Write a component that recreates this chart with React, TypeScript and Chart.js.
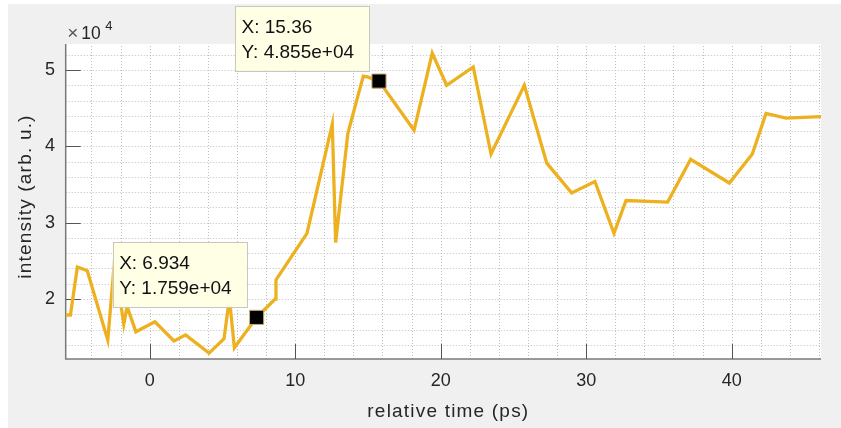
import React, { useEffect, useRef } from "react";
import { Chart, registerables } from "chart.js";

Chart.register(...registerables);

// ---- data ----
const timePs = [
  -5.77, -5.45, -4.97, -4.29, -2.88, -2.42, -1.78, -1.55, -0.95, 0.36, 1.67, 2.47,
  4.08, 5.11, 5.48, 5.82, 7.35, 8.63, 8.68, 10.81, 12.55, 12.78, 13.62, 14.68,
  14.96, 15.76, 18.17, 19.42, 20.41, 22.24, 23.46, 25.75, 27.29, 29.0, 30.6,
  31.91, 32.74, 35.6, 37.18, 39.84, 41.42, 42.36, 43.73, 46.14,
];
const intensity = [
  17900, 17900, 24200, 23700, 14600, 25000, 16700, 19000, 15700, 17000, 14500, 15300,
  12900, 14800, 20100, 13600, 17590, 20000, 22500, 28600, 42900, 27400, 41700, 49200,
  49100, 48550, 42100, 52200, 48000, 50400, 39000, 48000, 37800, 33900, 35400,
  28600, 32900, 32700, 38300, 35200, 39000, 44300, 43700, 43900,
];

// data tips (marker position as drawn, label text as shown)
const tipX = [7.35, 15.76];
const tipY = [17590, 48550];
const tipLabelX = ["X: 6.934", "X: 15.36"];
const tipLabelY = ["Y: 1.759e+04", "Y: 4.855e+04"];

const xTickValues = [0, 10, 20, 30, 40];
const yTickValues = [20000, 30000, 40000, 50000];
const xMinorStep = 2;
const yMinorStep = 2000;
const xRange = [-5.773, 46.14];
const yRange = [12136, 53408];

const xTitle = "relative time (ps)";
const yTitle = "intensity (arb. u.)";

const FONT = "'Liberation Sans', Arial, Helvetica, sans-serif";
const TEXT = "#262626";

const matlabPlugin = {
  id: "matlabLook",
  beforeDraw(chart: any) {
    const { ctx, chartArea: a, width, height } = chart;
    ctx.save();
    ctx.fillStyle = "#f0f0f0";
    ctx.fillRect(0, 0, width, height);
    ctx.fillStyle = "#ffffff";
    ctx.fillRect(a.left, a.top, a.right - a.left, a.bottom - a.top);
    ctx.restore();
  },
  beforeDatasetsDraw(chart: any) {
    const { ctx, chartArea: a, scales } = chart;
    const xs = scales.x;
    const ys = scales.y;
    ctx.save();
    ctx.strokeStyle = "#bdbdbd";
    ctx.lineWidth = 1;
    ctx.setLineDash([1, 2]);
    const x0 = Math.ceil(xs.min / xMinorStep) * xMinorStep;
    for (let v = x0; v <= xs.max + 1e-9; v += xMinorStep) {
      const px = Math.round(xs.getPixelForValue(v)) + 0.5;
      if (px <= a.left + 1) continue;
      ctx.beginPath();
      ctx.moveTo(px, a.bottom);
      ctx.lineTo(px, a.top);
      ctx.stroke();
    }
    const y0 = Math.ceil(ys.min / yMinorStep) * yMinorStep;
    for (let v = y0; v <= ys.max + 1e-9; v += yMinorStep) {
      const py = Math.round(ys.getPixelForValue(v)) + 0.5;
      if (py >= a.bottom - 1) continue;
      ctx.beginPath();
      ctx.moveTo(a.left, py);
      ctx.lineTo(a.right, py);
      ctx.stroke();
    }
    ctx.setLineDash([]);
    // axes lines
    ctx.strokeStyle = "#7a7a7a";
    ctx.lineWidth = 1.5;
    ctx.beginPath();
    ctx.moveTo(a.left, a.top);
    ctx.lineTo(a.left, a.bottom);
    ctx.lineTo(a.right, a.bottom);
    ctx.stroke();
    // tick marks (inward)
    ctx.strokeStyle = "#555555";
    ctx.lineWidth = 1;
    const tl = 15;
    for (const v of xTickValues) {
      const px = Math.round(xs.getPixelForValue(v)) + 0.5;
      ctx.beginPath();
      ctx.moveTo(px, a.bottom);
      ctx.lineTo(px, a.bottom - tl);
      ctx.stroke();
    }
    for (const v of yTickValues) {
      const py = Math.round(ys.getPixelForValue(v)) + 0.5;
      ctx.beginPath();
      ctx.moveTo(a.left, py);
      ctx.lineTo(a.left + tl, py);
      ctx.stroke();
    }
    ctx.restore();
  },
  afterDraw(chart: any) {
    const { ctx, chartArea: a, scales } = chart;
    const xs = scales.x;
    const ys = scales.y;
    ctx.save();
    // axis titles
    ctx.fillStyle = TEXT;
    ctx.font = `19px ${FONT}`;
    ctx.textAlign = "center";
    ctx.textBaseline = "middle";
    try { (ctx as any).letterSpacing = "1.2px"; } catch (e) {}
    ctx.fillText(xTitle, (a.left + a.right) / 2 + 5, a.bottom + 53);
    ctx.save();
    ctx.translate(18, (a.top + a.bottom) / 2 - 5);
    ctx.rotate(-Math.PI / 2);
    ctx.fillText(yTitle, 0, 0);
    ctx.restore();
    try { (ctx as any).letterSpacing = "0px"; } catch (e) {}
    // exponent label
    ctx.textAlign = "left";
    ctx.textBaseline = "alphabetic";
    ctx.fillStyle = "#555555";
    ctx.font = `19px ${FONT}`;
    ctx.fillText("\u00d7", a.left + 1.5, a.top - 4.7);
    ctx.fillStyle = TEXT;
    ctx.font = `17.5px ${FONT}`;
    ctx.fillText("10", a.left + 15.5, a.top - 4.7);
    ctx.font = `13px ${FONT}`;
    ctx.fillText("4", a.left + 39.5, a.top - 14);
    // data tips
    for (let i = 0; i < tipX.length; i++) {
      const mx = xs.getPixelForValue(tipX[i]);
      const my = ys.getPixelForValue(tipY[i]);
      const w = 134;
      const h = 64.5;
      const right = mx - 10;
      const bottom = my - 10.5;
      const left = right - w;
      const top = bottom - h;
      ctx.fillStyle = "#ffffe6";
      ctx.fillRect(left, top, w, h);
      ctx.strokeStyle = "#c8c8c0";
      ctx.lineWidth = 1;
      ctx.strokeRect(Math.round(left) + 0.5, Math.round(top) + 0.5, Math.round(w), Math.round(h));
      ctx.fillStyle = "#111111";
      ctx.font = `19px ${FONT}`;
      ctx.textAlign = "left";
      ctx.textBaseline = "middle";
      ctx.fillText(tipLabelX[i], left + 6.5, top + 21.5);
      ctx.fillText(tipLabelY[i], left + 6.5, top + 46.5);
    }
    ctx.restore();
  },
};

export default function App() {
  const ref = useRef<HTMLCanvasElement | null>(null);
  useEffect(() => {
    document.body.style.margin = "0";
    document.body.style.overflow = "hidden";
    if (!ref.current) return;
    const chart = new Chart(ref.current, {
      type: "line",
      data: {
        datasets: [
          {
            label: "tips",
            data: tipX.map((x, i) => ({ x, y: tipY[i] })),
            showLine: false,
            pointStyle: "rect",
            pointRadius: 10,
            pointBackgroundColor: "#000000",
            pointBorderColor: "#c9b170",
            pointBorderWidth: 1,
            order: 0,
          },
          {
            label: "intensity",
            data: timePs.map((x, i) => ({ x, y: intensity[i] })),
            borderColor: "#EDB120",
            borderWidth: 3.3,
            pointRadius: 0,
            tension: 0,
            fill: false,
            order: 1,
          },
        ],
      },
      options: {
        responsive: false,
        animation: false,
        devicePixelRatio: 1,
        layout: { padding: { top: 40, right: 20, left: 0, bottom: 0 } },
        plugins: { legend: { display: false }, tooltip: { enabled: false } },
        scales: {
          x: {
            type: "linear",
            min: xRange[0],
            max: xRange[1],
            grid: { display: false, drawTicks: false },
            border: { display: false },
            afterBuildTicks: (s: any) => {
              s.ticks = xTickValues.map((v) => ({ value: v }));
            },
            afterFit: (s: any) => {
              s.height = 69;
            },
            ticks: {
              autoSkip: false,
              maxRotation: 0,
              padding: 11,
              color: TEXT,
              font: { family: FONT, size: 18 },
              callback: (v: any) => String(v),
            },
          },
          y: {
            type: "linear",
            min: yRange[0],
            max: yRange[1],
            grid: { display: false, drawTicks: false },
            border: { display: false },
            afterBuildTicks: (s: any) => {
              s.ticks = yTickValues.map((v) => ({ value: v }));
            },
            afterFit: (s: any) => {
              s.width = 57.7;
            },
            ticks: {
              autoSkip: false,
              padding: 10.7,
              color: TEXT,
              font: { family: FONT, size: 18 },
              callback: (v: any) => String(Number(v) / 10000),
            },
          },
        },
      },
      plugins: [matlabPlugin],
    });
    return () => chart.destroy();
  }, []);
  return (
    <div style={{ position: "relative", width: 841, height: 428, background: "#ffffff", overflow: "hidden" }}>
      <canvas
        ref={ref}
        width={833}
        height={424}
        style={{ position: "absolute", left: 8, top: 4, display: "block", width: 833, height: 424 }}
      />
    </div>
  );
}
